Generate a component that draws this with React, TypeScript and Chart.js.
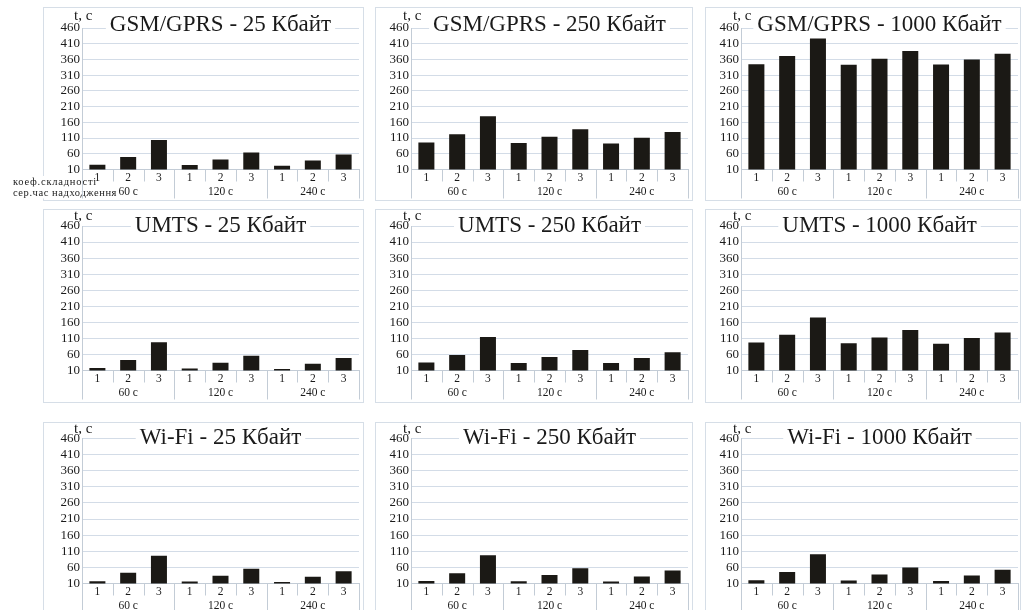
import React, { useEffect, useRef } from 'react';
import { Chart, registerables } from 'chart.js';

Chart.register(...registerables);

// ---------- data ----------
const CATEGORY_LABELS: string[][] = [
  ['1', ''], ['2', '60 с'], ['3', ''],
  ['1', ''], ['2', '120 с'], ['3', ''],
  ['1', ''], ['2', '240 с'], ['3', ''],
];
const Y_TICKS = [10, 60, 110, 160, 210, 260, 310, 360, 410, 460];
const Y_UNIT = 't, с';
const ROW_LABEL_COMPLEXITY = 'коеф.складності';
const ROW_LABEL_ARRIVAL = 'сер.час надходження';

const GSM_25 = [25, 50, 104, 24, 42, 64, 22, 39, 58];
const GSM_250 = [96, 122, 179, 94, 114, 138, 93, 111, 129];
const GSM_1000 = [345, 371, 427, 343, 362, 387, 344, 360, 378];
const UMTS_25 = [18, 43, 98, 16, 34, 56, 15, 31, 49];
const UMTS_250 = [35, 58, 114, 33, 52, 74, 33, 49, 67];
const UMTS_1000 = [97, 121, 175, 95, 113, 136, 93, 111, 128];
const WIFI_25 = [17, 43, 96, 16, 34, 56, 15, 31, 48];
const WIFI_250 = [18, 42, 98, 17, 36, 57, 16, 32, 50];
const WIFI_1000 = [20, 46, 101, 19, 38, 60, 18, 35, 53];

const TITLES = [
  ['GSM/GPRS - 25 Кбайт', 'GSM/GPRS - 250 Кбайт', 'GSM/GPRS - 1000 Кбайт'],
  ['UMTS - 25 Кбайт', 'UMTS - 250 Кбайт', 'UMTS - 1000 Кбайт'],
  ['Wi-Fi - 25 Кбайт', 'Wi-Fi - 250 Кбайт', 'Wi-Fi - 1000 Кбайт'],
];
const SERIES = [
  [GSM_25, GSM_250, GSM_1000],
  [UMTS_25, UMTS_250, UMTS_1000],
  [WIFI_25, WIFI_250, WIFI_1000],
];

// ---------- layout / style ----------
const FONT = "'Liberation Serif', 'Times New Roman', serif";
const BAR_COLOR = '#1b1915';
const GRID_COLOR = '#d3dce7';
const AXIS_COLOR = '#c3ccd6';
const BORDER_COLOR = '#d6dee7';
const TEXT_COLOR = '#1a1a1a';
const Y_W = 30;

const COLS = [
  { x: 8, w: 356, plotL: 74, plotR: 351, bL: 35, bR: 355 },
  { x: 374, w: 320, plotL: 37, plotR: 314, bL: 1, bR: 318 },
  { x: 704, w: 317, plotL: 37, plotR: 314, bL: 1, bR: 316 },
];
const ROWS = [
  { y: 6, h: 196, plotT: 22, plotB: 163.5, titleBase: 25, unitBase: 14, bT: 1, bB: 194 },
  { y: 208, h: 196, plotT: 18, plotB: 162.5, titleBase: 24, unitBase: 12, bT: 1, bB: 194 },
  { y: 421, h: 189, plotT: 17.5, plotB: 162.5, titleBase: 22.5, unitBase: 12, bT: 1, bB: 200 },
];

type PanelProps = { r: number; c: number };

function Panel({ r, c }: PanelProps) {
  const ref = useRef<HTMLCanvasElement | null>(null);
  const col = COLS[c];
  const row = ROWS[r];
  useEffect(() => {
    const canvas = ref.current;
    if (!canvas) return;
    const title = TITLES[r][c];
    const showRowLabels = r === 0 && c === 0;
    const panelPlugin = {
      id: 'panelDeco',
      beforeDraw(chart: any) {
        const ctx = chart.ctx;
        ctx.save();
        ctx.fillStyle = '#ffffff';
        ctx.fillRect(0, 0, chart.width, chart.height);
        ctx.strokeStyle = BORDER_COLOR;
        ctx.lineWidth = 1;
        ctx.strokeRect(col.bL + 0.5, row.bT + 0.5, col.bR - col.bL, row.bB - row.bT);
        // row labels (first panel only), drawn under the axis labels
        if (showRowLabels) {
          ctx.font = `10.5px ${FONT}`;
          ctx.textAlign = 'left';
          ctx.textBaseline = 'alphabetic';
          const items: [string, number, number][] = [
            [ROW_LABEL_COMPLEXITY, 179, 84],
            [ROW_LABEL_ARRIVAL, 189.5, 104],
          ];
          for (const [txt, base, target] of items) {
            (ctx as any).letterSpacing = '0px';
            const w0 = ctx.measureText(txt).width;
            const ls = Math.max(0, (target - w0) / txt.length);
            (ctx as any).letterSpacing = `${ls}px`;
            ctx.fillStyle = '#ffffff';
            ctx.fillRect(4, base - 9, target + 2, 12);
            ctx.fillStyle = TEXT_COLOR;
            ctx.fillText(txt, 5, base);
          }
          (ctx as any).letterSpacing = '0px';
        }
        ctx.restore();
      },
      afterDraw(chart: any) {
        const ctx = chart.ctx;
        const area = chart.chartArea;
        const xs = chart.scales.x;
        const n = CATEGORY_LABELS.length;
        ctx.save();
        // category separators
        ctx.strokeStyle = AXIS_COLOR;
        ctx.lineWidth = 1;
        for (let i = 0; i <= n; i++) {
          let px: number;
          if (i === 0) px = xs.left;
          else if (i === n) px = xs.right;
          else px = (xs.getPixelForValue(i - 1) + xs.getPixelForValue(i)) / 2;
          const long = i % 3 === 0;
          const x = Math.round(px) + 0.5;
          ctx.beginPath();
          ctx.moveTo(x, area.bottom);
          ctx.lineTo(x, area.bottom + (long ? 29 : 12));
          ctx.stroke();
        }
        // title with white background
        ctx.font = `23px ${FONT}`;
        ctx.textBaseline = 'alphabetic';
        ctx.textAlign = 'center';
        const cx = (area.left + area.right) / 2;
        const tw = ctx.measureText(title).width;
        ctx.fillStyle = '#ffffff';
        ctx.fillRect(cx - tw / 2 - 4, row.titleBase - 19, tw + 8, 25);
        ctx.fillStyle = TEXT_COLOR;
        ctx.fillText(title, cx, row.titleBase);
        // unit label
        ctx.font = `15px ${FONT}`;
        ctx.textAlign = 'left';
        ctx.fillText(Y_UNIT, area.left - 8, row.unitBase);
        ctx.restore();
      },
    };
    const chart = new Chart(canvas, {
      type: 'bar',
      data: {
        labels: CATEGORY_LABELS,
        datasets: [
          {
            data: SERIES[r][c],
            backgroundColor: BAR_COLOR,
            borderWidth: 0,
            barPercentage: 0.52,
            categoryPercentage: 1,
          },
        ],
      },
      options: {
        responsive: false,
        animation: false,
        devicePixelRatio: 1,
        layout: {
          padding: { left: col.plotL - Y_W, right: col.w - col.plotR, top: row.plotT, bottom: 0 },
        },
        plugins: {
          legend: { display: false },
          tooltip: { enabled: false },
          title: { display: false },
        },
        scales: {
          x: {
            offset: true,
            grid: { display: false },
            border: { display: true, color: AXIS_COLOR },
            ticks: {
              autoSkip: false,
              maxRotation: 0,
              minRotation: 0,
              padding: -7,
              color: TEXT_COLOR,
              font: { size: 11.5, family: FONT, lineHeight: 1.25 },
            },
            afterFit: (s: any) => {
              s.height = row.h - row.plotB;
            },
          },
          y: {
            min: Y_TICKS[0],
            max: Y_TICKS[Y_TICKS.length - 1],
            afterBuildTicks: (s: any) => {
              s.ticks = Y_TICKS.map((v) => ({ value: v }));
            },
            grid: { color: GRID_COLOR, drawTicks: false },
            border: { display: true, color: AXIS_COLOR },
            ticks: {
              autoSkip: false,
              padding: 2,
              color: TEXT_COLOR,
              font: { size: 13, family: FONT },
            },
            afterFit: (s: any) => {
              s.width = Y_W;
            },
          },
        },
      } as any,
      plugins: [panelPlugin],
    });
    return () => chart.destroy();
  }, [r, c]);
  return (
    <canvas
      ref={ref}
      width={col.w}
      height={row.h}
      style={{ position: 'absolute', left: col.x, top: row.y, width: col.w, height: row.h }}
    />
  );
}

export default function App() {
  const panels: PanelProps[] = [];
  for (let r = 0; r < 3; r++) for (let c = 0; c < 3; c++) panels.push({ r, c });
  return (
    <div
      style={{
        position: 'fixed',
        left: 0,
        top: 0,
        width: 1021,
        height: 610,
        background: '#ffffff',
        overflow: 'hidden',
      }}
    >
      {panels.map((p) => (
        <Panel key={`${p.r}-${p.c}`} r={p.r} c={p.c} />
      ))}
    </div>
  );
}
